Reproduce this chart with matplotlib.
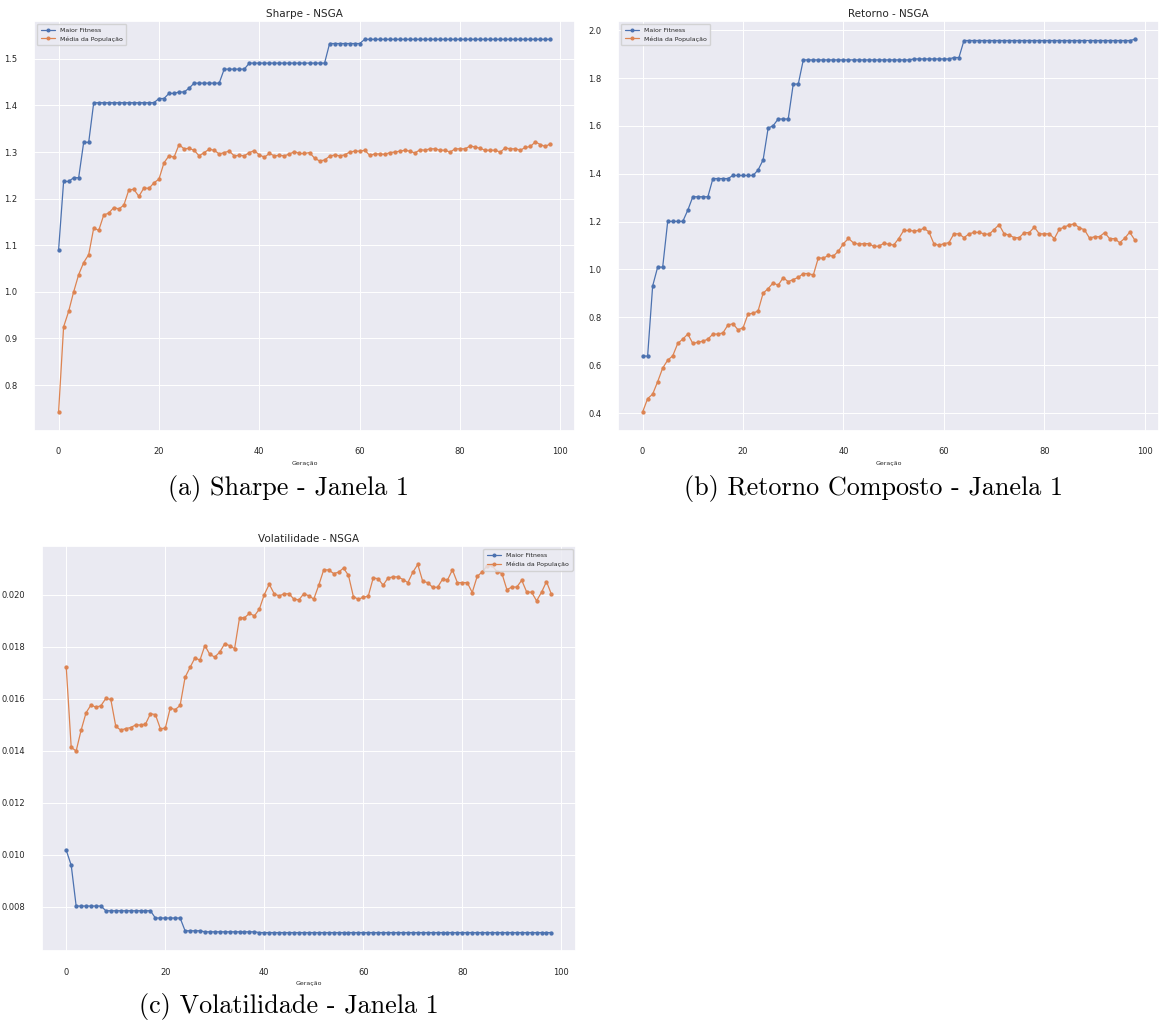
import numpy as np
import matplotlib
matplotlib.use("Agg")
import matplotlib.pyplot as plt
import seaborn as sns

# geracoes 0..98
geracoes = np.arange(99)

# Sharpe
sharpe_maior = ([1.090] + [1.237] * 2 + [1.245] * 2 + [1.321] * 2 + [1.406] * 13
                + [1.415] * 2 + [1.426] * 2 + [1.429] * 2 + [1.437] + [1.448] * 6
                + [1.478] * 5 + [1.491] * 16 + [1.533] * 7 + [1.542] * 38)
sharpe_media = [
    0.742, 0.925, 0.958, 1.000, 1.037, 1.063, 1.080, 1.137, 1.132, 1.165,
    1.169, 1.181, 1.178, 1.186, 1.219, 1.220, 1.205, 1.223, 1.222, 1.234,
    1.242, 1.277, 1.292, 1.289, 1.316, 1.307, 1.308, 1.304, 1.292, 1.299,
    1.306, 1.304, 1.296, 1.299, 1.302, 1.292, 1.293, 1.292, 1.299, 1.303,
    1.294, 1.289, 1.297, 1.292, 1.293, 1.292, 1.296, 1.301, 1.297, 1.297,
    1.299, 1.287, 1.281, 1.283, 1.291, 1.294, 1.292, 1.294, 1.300, 1.302,
    1.302, 1.304, 1.293, 1.296, 1.296, 1.295, 1.299, 1.300, 1.302, 1.304,
    1.302, 1.298, 1.305, 1.304, 1.307, 1.307, 1.304, 1.304, 1.300, 1.307,
    1.307, 1.307, 1.313, 1.311, 1.308, 1.304, 1.304, 1.304, 1.300, 1.309,
    1.307, 1.307, 1.304, 1.310, 1.312, 1.322, 1.316, 1.312, 1.318]

# Retorno composto
retorno_maior = ([0.638] * 2 + [0.931] + [1.010] * 2 + [1.201] * 4 + [1.248]
                 + [1.304] * 4 + [1.380] * 4 + [1.393] * 5 + [1.416] + [1.458]
                 + [1.591] + [1.601] + [1.629] * 3 + [1.775] * 2 + [1.876] * 22
                 + [1.880] * 8 + [1.886] * 2 + [1.957] * 34 + [1.962])
retorno_media = [
    0.404, 0.460, 0.479, 0.531, 0.588, 0.621, 0.639, 0.691, 0.709, 0.730,
    0.691, 0.696, 0.700, 0.709, 0.730, 0.730, 0.735, 0.768, 0.773, 0.748,
    0.756, 0.814, 0.817, 0.827, 0.901, 0.920, 0.944, 0.934, 0.966, 0.949,
    0.958, 0.967, 0.983, 0.983, 0.977, 1.049, 1.047, 1.059, 1.056, 1.077,
    1.108, 1.130, 1.111, 1.106, 1.108, 1.108, 1.097, 1.097, 1.109, 1.106,
    1.102, 1.129, 1.163, 1.163, 1.161, 1.163, 1.172, 1.158, 1.108, 1.101,
    1.108, 1.112, 1.149, 1.149, 1.133, 1.149, 1.155, 1.155, 1.149, 1.147,
    1.167, 1.187, 1.149, 1.144, 1.133, 1.133, 1.154, 1.154, 1.177, 1.149,
    1.149, 1.149, 1.129, 1.169, 1.177, 1.187, 1.190, 1.174, 1.166, 1.131,
    1.137, 1.137, 1.154, 1.129, 1.129, 1.112, 1.130, 1.156, 1.124]

# Volatilidade
vol_maior = ([0.01017, 0.00960] + [0.00803] * 6 + [0.00785] * 10
             + [0.00757] * 6 + [0.00708] * 4 + [0.00704] * 11 + [0.00701] * 60)
vol_media = [
    0.01720, 0.01413, 0.01399, 0.01479, 0.01546, 0.01576, 0.01567, 0.01573, 0.01601, 0.01597,
    0.01494, 0.01479, 0.01485, 0.01489, 0.01499, 0.01499, 0.01502, 0.01542, 0.01539, 0.01485,
    0.01486, 0.01564, 0.01558, 0.01574, 0.01682, 0.01720, 0.01757, 0.01748, 0.01804, 0.01770,
    0.01760, 0.01779, 0.01811, 0.01804, 0.01792, 0.01911, 0.01911, 0.01928, 0.01918, 0.01944,
    0.02000, 0.02040, 0.02003, 0.01995, 0.02003, 0.02003, 0.01982, 0.01980, 0.02004, 0.01995,
    0.01983, 0.02036, 0.02095, 0.02095, 0.02081, 0.02086, 0.02102, 0.02074, 0.01992, 0.01982,
    0.01990, 0.01994, 0.02064, 0.02061, 0.02036, 0.02064, 0.02068, 0.02068, 0.02058, 0.02046,
    0.02086, 0.02116, 0.02051, 0.02046, 0.02028, 0.02028, 0.02059, 0.02056, 0.02095, 0.02046,
    0.02046, 0.02046, 0.02008, 0.02070, 0.02087, 0.02110, 0.02112, 0.02088, 0.02081, 0.02019,
    0.02029, 0.02029, 0.02055, 0.02010, 0.02009, 0.01976, 0.02009, 0.02050, 0.02001]

sns.set_theme(style="darkgrid", rc={'grid.linewidth': 0.7})
plt.rcParams['font.family'] = ['DejaVu Sans']

W, H = 1161, 1027
fig = plt.figure(figsize=(W / 100, H / 100), dpi=100)


def px_axes(x0, y0, x1, y1):
    return fig.add_axes([x0 / W, 1 - y1 / H, (x1 - x0) / W, (y1 - y0) / H])


def plot_nsga(ax, maior, media, titulo, loc):
    ax.plot(geracoes, maior, marker='o', markersize=2.1, linewidth=0.9,
            color='#4C72B0', label='Maior Fitness')
    ax.plot(geracoes, media, marker='o', markersize=2.1, linewidth=0.9,
            color='#DD8452', label='Média da População')
    ax.set_title(titulo, fontsize=7.5, pad=3)
    ax.set_xlabel('Geração', fontsize=4.5, labelpad=3)
    ax.tick_params(axis='both', labelsize=6, pad=6)
    ax.set_xticks([0, 20, 40, 60, 80, 100])
    ax.legend(loc=loc, fontsize=4.5, markerscale=0.9, handlelength=2.2,
              borderpad=0.6, framealpha=0.8)


ax_a = px_axes(34, 20.7, 575, 430.7)
plot_nsga(ax_a, sharpe_maior, sharpe_media, 'Sharpe - NSGA', 'upper left')

ax_b = px_axes(618, 20.7, 1159.3, 430.7)
plot_nsga(ax_b, retorno_maior, retorno_media, 'Retorno - NSGA', 'upper left')

ax_c = px_axes(42, 546, 575.7, 951)
plot_nsga(ax_c, vol_maior, vol_media, 'Volatilidade - NSGA', 'upper right')
ax_c.yaxis.set_major_formatter(matplotlib.ticker.FormatStrFormatter('%.3f'))

# legendas das subfiguras
cap = dict(fontsize=18.8, family=['cmr10'], ha='center', va='center', color='black')
fig.text(289 / W, 1 - 488 / H, '(a) Sharpe - Janela 1', **cap)
fig.text(874 / W, 1 - 488 / H, '(b) Retorno Composto - Janela 1', **cap)
fig.text(289 / W, 1 - 1007 / H, '(c) Volatilidade - Janela 1', **cap)

fig.savefig('out.png', dpi=100)
